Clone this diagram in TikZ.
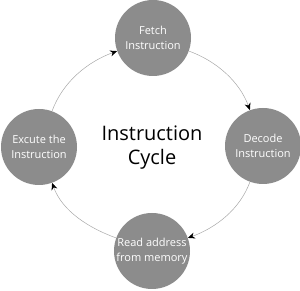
\documentclass[tikz,border=0pt]{standalone}
\usepackage{fontspec}
\setmainfont{Open Sans}
\usetikzlibrary{arrows.meta}
\definecolor{stepfill}{HTML}{8C8C8C}
\definecolor{arcgray}{HTML}{A8A8A8}
\tikzset{
  stage/.style={circle, fill=stepfill, minimum size=76pt, inner sep=0pt,
    text=white, align=center, font=\fontsize{11}{15}\selectfont},
  cyc/.style={draw=arcgray, line width=0.5pt, looseness=0.9,
    -{Stealth[black, length=7pt, width=6pt]}},
}
\begin{document}
\begin{tikzpicture}[x=1pt,y=1pt]
\useasboundingbox (0,0) rectangle (300,291);
\node[stage] (fetch) at (153,253) {Fetch\\Instruction};
\node[stage] (decode) at (263,145) {Decode\\Instruction};
\node[stage] (read) at (152,40) {Read address\\from memory};
\node[stage] (exec) at (39,144) {Excute the\\Instruction};
\node[align=center, font=\fontsize{20}{24}\selectfont] (title) at (152,143) {Instruction\\Cycle};
\draw[cyc] (exec) to[out=70, in=200] (fetch);
\draw[cyc] (fetch) to[out=-20, in=110] (decode);
\draw[cyc] (decode) to[out=-110, in=20] (read);
\draw[cyc] (read) to[out=160, in=290] (exec);
\end{tikzpicture}
\end{document}
